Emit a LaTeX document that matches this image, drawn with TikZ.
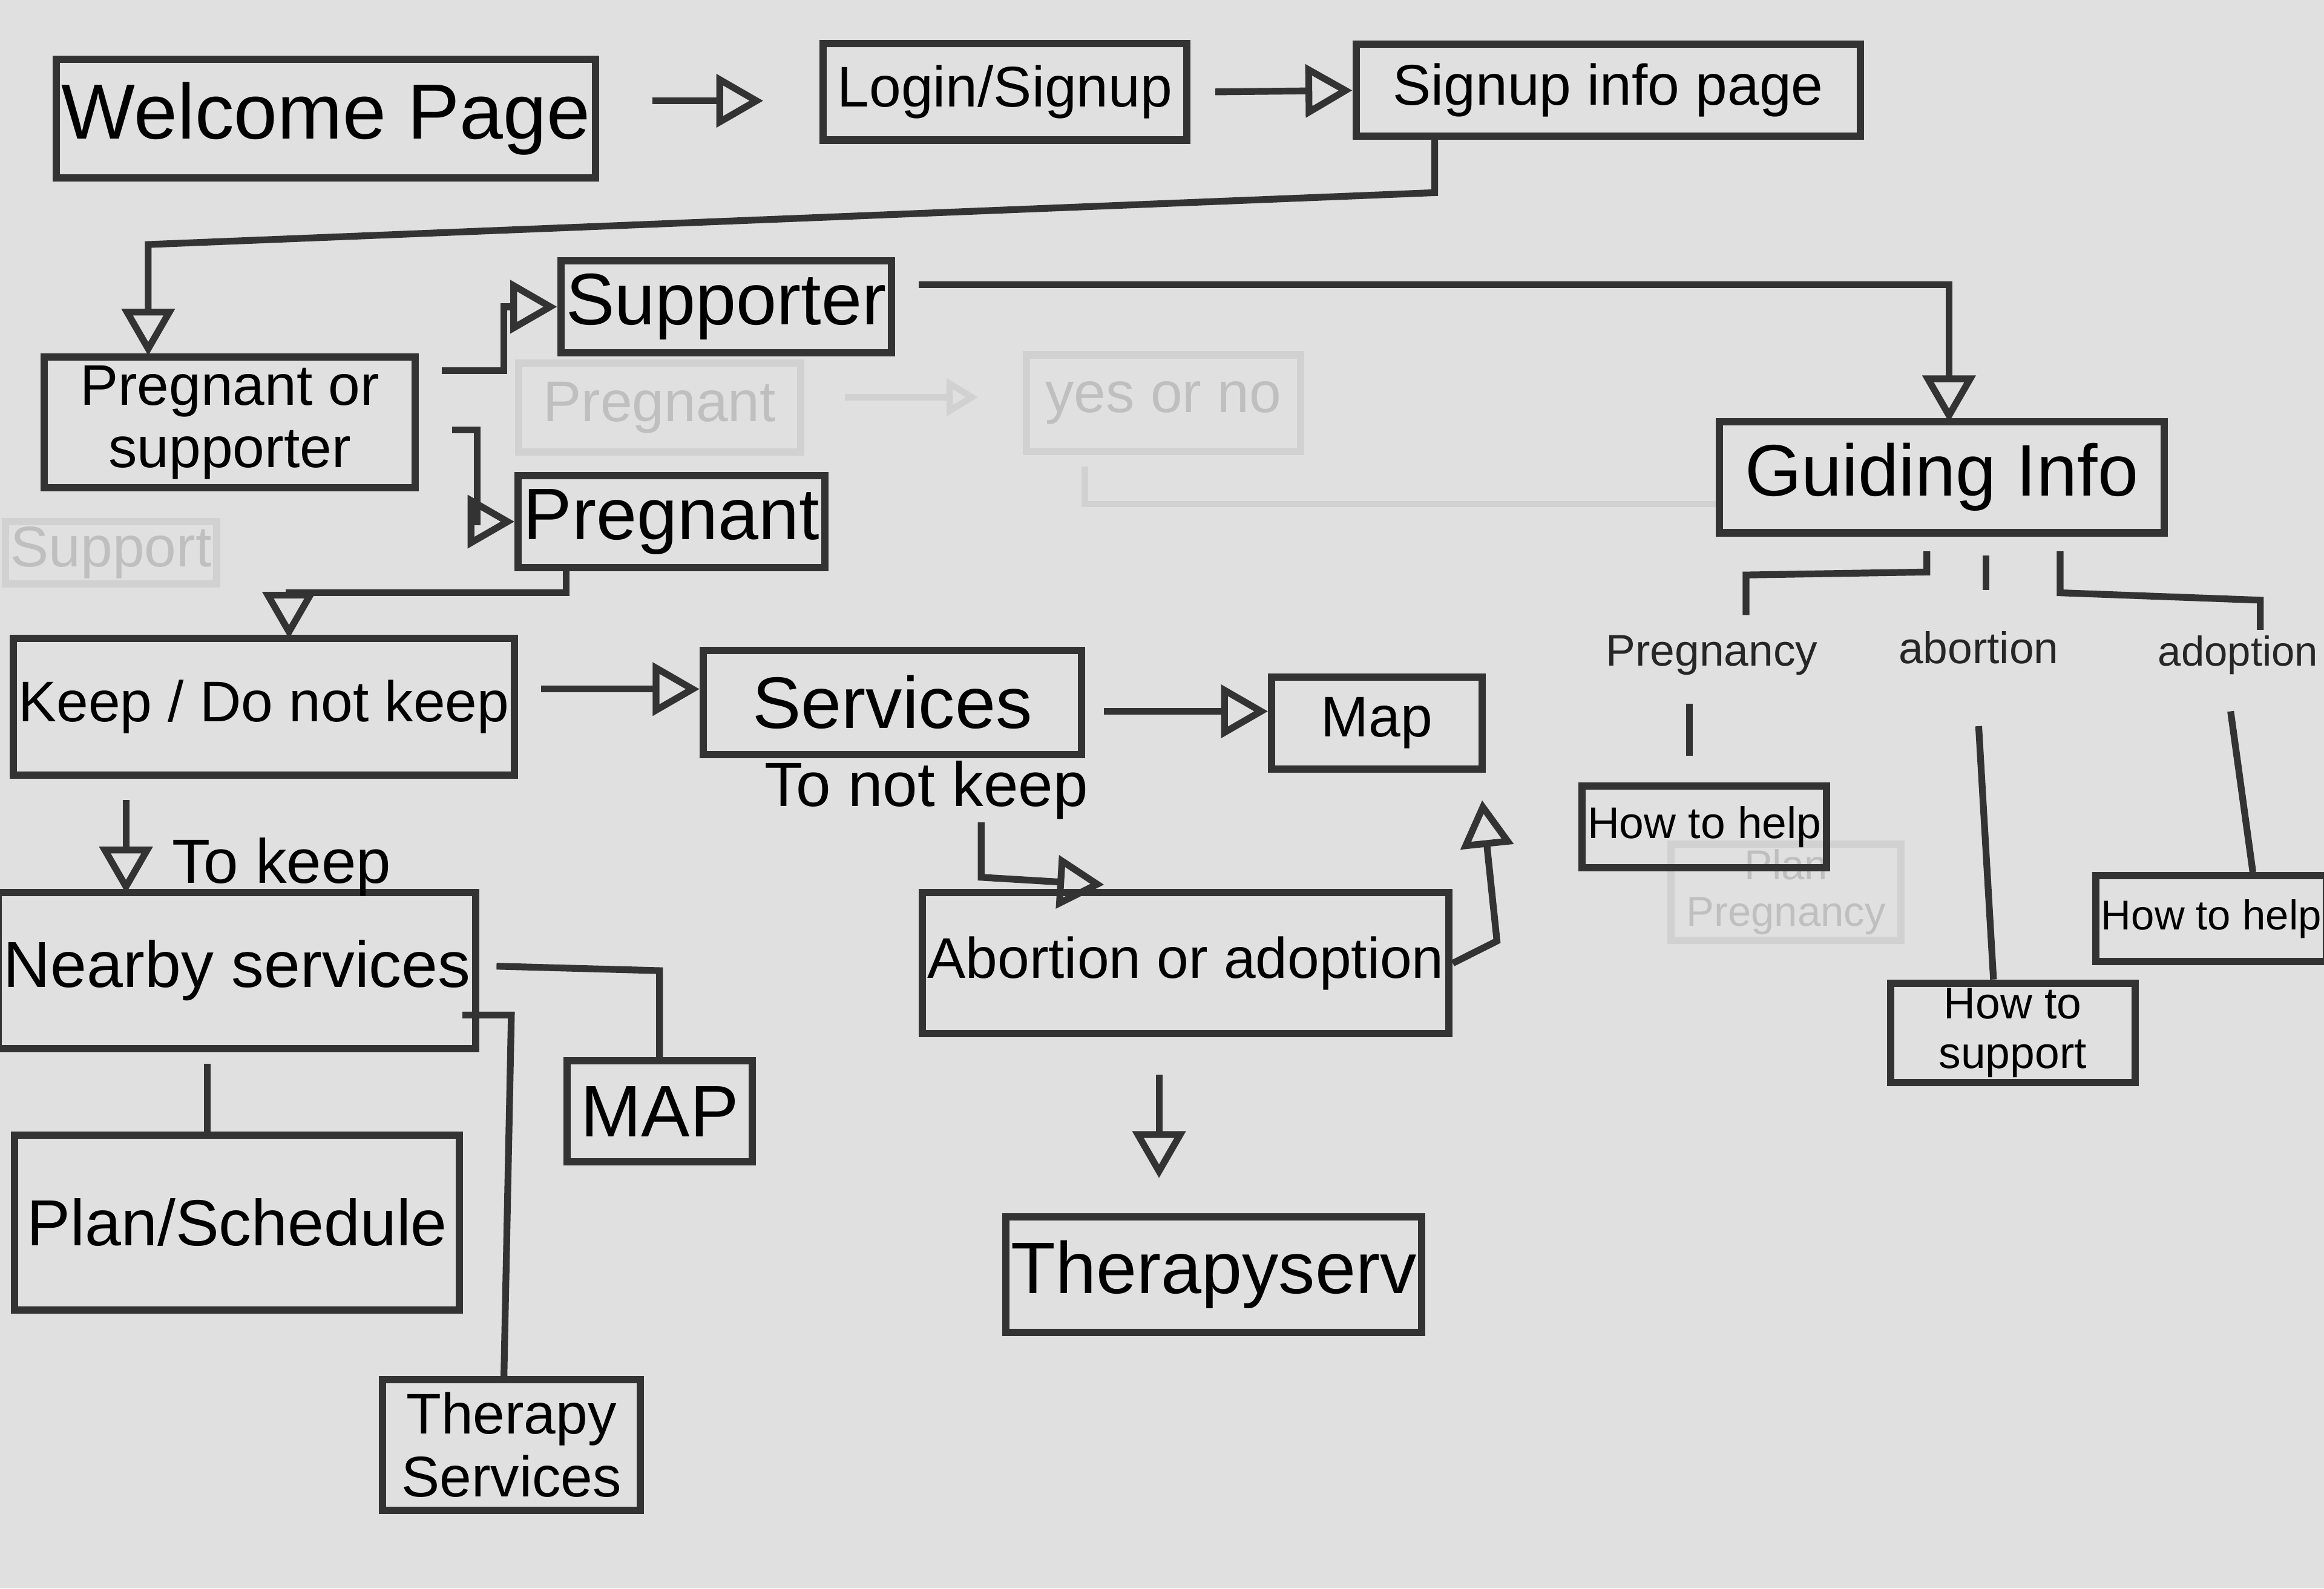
\documentclass[tikz,border=0pt]{standalone}
\usepackage{fontspec}
\setmainfont{Liberation Sans}
\usepackage{tikz}
\usetikzlibrary{arrows.meta}
\tikzset{
  page/.style    = {shape=rectangle, draw=black!80, line width=1.4pt,
                    align=center, inner sep=1pt, font=\fontsize{11}{12}\selectfont},
  big/.style     = {page, font=\fontsize{14}{15}\selectfont},
  small/.style   = {page, font=\fontsize{8.5}{9.5}\selectfont},
  faint/.style   = {page, draw=black!18, text=black!25},
  branch/.style  = {font=\fontsize{8.5}{10}\selectfont, text=black!85},
  link/.style    = {draw=black!80, line width=1.3pt},
  go/.style      = {link, -{Triangle[open, length=9pt, width=10pt]}},
  erased/.style  = {draw=black!18, line width=1.2pt}
}
\begin{document}
\begin{tikzpicture}[x=0.01cm, y=-0.01cm]
  \fill[black!12] (0,0) rectangle (1568,1072);
  \useasboundingbox (0,0) rectangle (1568,1072);

  % erased attempts
  \node[faint, minimum width=1.90cm, minimum height=0.60cm] (oldpreg) at (445,275) {Pregnant};
  \node[faint, minimum width=1.85cm, minimum height=0.65cm] (yesno) at (785,272) {yes or no};
  \node[faint, minimum width=1.40cm, minimum height=0.40cm] (oldsup) at (75,373) {Support};
  \node[faint, font=\fontsize{8}{9}\selectfont, minimum width=1.55cm, minimum height=0.60cm] (planpreg) at (1205,602) {Plan\\Pregnancy};
  \draw[erased, -{Triangle[open]}] (570,268) -- (660,268);
  \draw[erased] (732,315) -- (732,340) -- (1160,340);

  % pages
  \node[big, font=\fontsize{15}{16}\selectfont, minimum width=3.50cm, minimum height=0.80cm] (welcome) at (220,80) {Welcome Page};
  \node[page, minimum width=2.45cm, minimum height=0.65cm] (login) at (678,62) {Login/Signup};
  \node[page, minimum width=3.40cm, minimum height=0.62cm] (signup) at (1085,61) {Signup info page};
  \node[page, minimum width=2.50cm, minimum height=0.88cm] (choice) at (155,285) {Pregnant or\\supporter};
  \node[big, minimum width=2.10cm, minimum height=0.62cm] (supporter) at (490,207) {Supporter};
  \node[big, minimum width=1.75cm, minimum height=0.62cm] (pregnant) at (453,352) {Pregnant};
  \node[big, minimum width=3.00cm, minimum height=0.75cm] (guide) at (1310,322) {Guiding Info};
  \node[page, minimum width=3.05cm, minimum height=0.92cm] (keep) at (178,477) {Keep / Do not keep};
  \node[big, minimum width=2.55cm, minimum height=0.70cm] (services) at (602,474) {Services};
  \node[page, minimum width=1.42cm, minimum height=0.62cm] (map) at (929,488) {Map};
  \node[page, font=\fontsize{12.5}{14}\selectfont, minimum width=3.00cm, minimum height=1.05cm] (nearby) at (160,655) {Nearby services};
  \node[page, font=\fontsize{12.5}{14}\selectfont, minimum width=3.00cm, minimum height=1.18cm] (plan) at (160,825) {Plan/Schedule};
  \node[page, minimum width=1.74cm, minimum height=0.88cm] (therapy) at (345,975) {Therapy\\Services};
  \node[big, minimum width=1.25cm, minimum height=0.68cm] (bigmap) at (445,750) {MAP};
  \node[page, minimum width=3.20cm, minimum height=0.95cm] (choose) at (800,650) {Abortion or adoption};
  \node[big, minimum width=1.98cm, minimum height=0.78cm] (therapyserv) at (819,860) {Therapyserv};
  \node[small, minimum width=1.42cm, minimum height=0.55cm] (helpone) at (1150,558) {How to help};
  \node[small, minimum width=1.65cm, minimum height=0.62cm] (support) at (1358,697) {How to\\support};
  \node[small, font=\fontsize{8}{9}\selectfont, minimum width=1.36cm, minimum height=0.58cm] (helptwo) at (1492,620) {How to help};

  % branch labels
  \node[branch] (lpreg) at (1155,442) {Pregnancy};
  \node[branch] (labort) at (1335,437) {abortion};
  \node[branch, font=\fontsize{8}{9}\selectfont] (ladopt) at (1510,442) {adoption};
  \node[font=\fontsize{12}{13}\selectfont] (lnot) at (625,533) {To not keep};
  \node[font=\fontsize{12}{13}\selectfont] (lkeep) at (190,585) {To keep};

  % flow
  \draw[go] (440,68) -- (515,68);
  \draw[go] (820,62) -- (signup.west);
  \draw[go] (968,92) -- (968,130) -- (100,165) -- (100,240);
  \draw[go] (298,250) -- (340,250) |- (supporter.west);
  \draw[go] (305,290) -- (322,290) |- (pregnant.west);
  \draw[go] (620,192) -| (1315,285);
  \draw[go] (382,383) -- (382,400) -- (195,400) -- (195,431);
  \draw[go] (365,465) -- (services.west |- 0,465);
  \draw[go] (745,480) -- (map.west |- 0,480);
  \draw[go] (662,555) -- (662,592) -- (745,597);
  \draw[go] (choose.east) -- (1010,635) -- (1000,540);
  \draw[go] (782,725) -- (782,795);
  \draw[go] (85,540) -- (85,603);
  \draw[link] (140,718) -- (140,765);
  \draw[link] (335,652) -- (445,655) -- (bigmap.north);
  \draw[link] (312,685) -- (345,685) -- (therapy.north -| 340,0);

  % guiding info tree
  \draw[link] (1340,375) -- (1340,398);
  \draw[link] (1178,415) -- (1178,388) -- (1300,386) -- (1300,372);
  \draw[link] (1390,372) -- (1390,400) -- (1525,405) -- (1525,425);
  \draw[link] (1140,475) -- (1140,510);
  \draw[link] (1335,490) -- (support.north -| 1345,0);
  \draw[link] (1505,480) -- (helptwo.north -| 1520,0);
\end{tikzpicture}
\end{document}
